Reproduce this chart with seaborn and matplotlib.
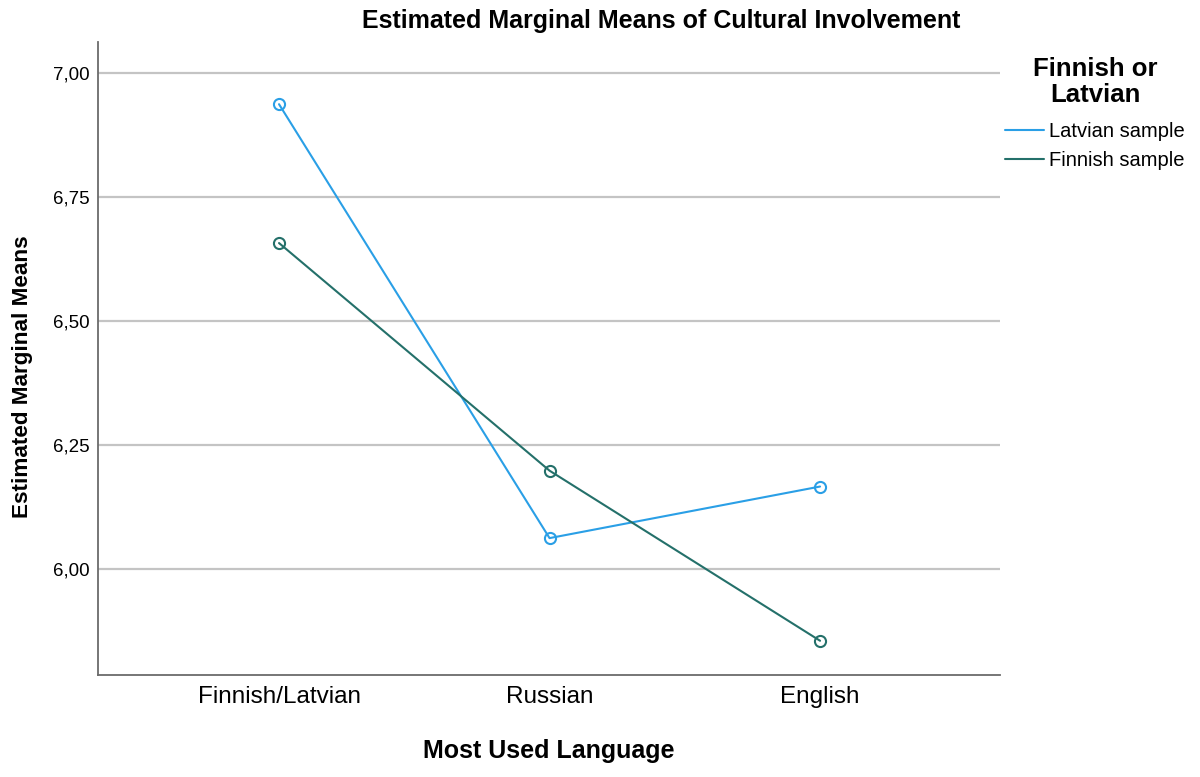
import pandas as pd
import matplotlib
import seaborn as sns

matplotlib.use('Agg')
import matplotlib.pyplot as plt
from matplotlib.lines import Line2D

languages = ['Finnish/Latvian', 'Russian', 'English']
latvian_means = [6.937, 6.062, 6.166]
finnish_means = [6.657, 6.198, 5.855]
groups = ['Latvian sample', 'Finnish sample']
colors = {'Latvian sample': '#2a9fe6', 'Finnish sample': '#24706a'}


def main():
    sns.set_style('white', {'text.color': 'black', 'axes.labelcolor': 'black',
                            'xtick.color': 'black', 'ytick.color': 'black'})
    plt.rcParams['font.family'] = ['Liberation Sans', 'DejaVu Sans']

    data = pd.DataFrame({
        'Language': languages * 2,
        'Mean': latvian_means + finnish_means,
        'Group': [groups[0]] * 3 + [groups[1]] * 3,
    })
    data['Pos'] = data['Language'].map({l: i for i, l in enumerate(languages)})

    fig = plt.figure(figsize=(12, 7.77), dpi=100)
    ax = fig.add_axes([0.0817, 0.1313, 0.7516, 0.8147])

    for y in [6.0, 6.25, 6.5, 6.75, 7.0]:
        ax.axhline(y, color='#c4c4c4', lw=1.6, zorder=0)

    sns.lineplot(data=data, x='Pos', y='Mean', hue='Group', palette=colors,
                 marker='o', markersize=8, markerfacecolor='none', markeredgewidth=1.5,
                 lw=1.5, legend=False, ax=ax)
    for line in ax.lines[5:]:
        line.set_markeredgecolor(line.get_color())

    ax.set_xlim(-0.669, 2.665)
    ax.set_ylim(5.786, 7.0625)
    ax.set_xticks(range(3))
    ax.set_xticklabels(languages, fontsize=17.5)
    ax.set_yticks([6.0, 6.25, 6.5, 6.75, 7.0])
    ax.set_yticklabels(['6,00', '6,25', '6,50', '6,75', '7,00'], fontsize=13.5)
    ax.tick_params(axis='both', length=0, pad=6)
    ax.tick_params(axis='x', pad=8)
    for s in ['top', 'right']:
        ax.spines[s].set_visible(False)
    for s in ['left', 'bottom']:
        ax.spines[s].set_color('#6b6b6b')
        ax.spines[s].set_linewidth(1.3)

    ax.set_xlabel('Most Used Language', fontsize=18, fontweight='bold', labelpad=22)
    ax.set_ylabel('Estimated Marginal Means', fontsize=16.2, fontweight='bold')
    ax.yaxis.set_label_coords(-0.072, 0.471)
    fig.text(0.551, 0.973, 'Estimated Marginal Means of Cultural Involvement',
             ha='center', va='center', fontsize=18, fontweight='bold')

    # legend heading drawn separately so its spacing matches the SPSS layout
    fig.text(1095 / 1200, 1 - 82 / 777, 'Finnish or\nLatvian', ha='center', va='center',
             fontsize=18.5, fontweight='bold', linespacing=1.1)
    handles = [Line2D([0], [0], color=colors[g], lw=1.5) for g in groups]
    fig.legend(handles, groups, loc='upper left',
               bbox_to_anchor=(0.8312, 0.853), frameon=False, fontsize=14.5,
               handlelength=1.9, handletextpad=0.25, labelspacing=0.48,
               borderaxespad=0)

    fig.savefig('out.png', dpi=100)


if __name__ == '__main__':
    main()
